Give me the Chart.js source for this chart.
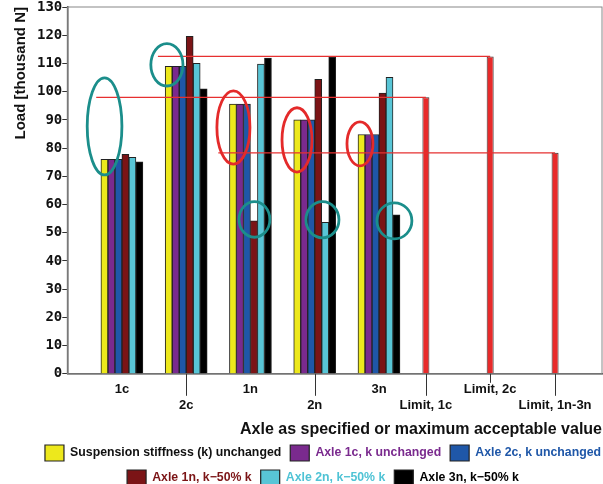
<!DOCTYPE html>
<html>
<head>
<meta charset="utf-8">
<script src="https://cdn.jsdelivr.net/npm/chart.js@4/dist/chart.umd.min.js"></script>
<style>
  html, body { margin: 0; padding: 0; background: #fff; }
</style>
</head>
<body>
<canvas id="chart" width="603" height="484"></canvas>
<script>
// axles along a numeric x axis, limits sit after the last group
const groups = ['1c', '2c', '1n', '2n', '3n'];
const groupPos = [1, 2, 3, 4, 5];
const limits = ['Limit, 1c', 'Limit, 2c', 'Limit, 1n-3n'];
const limitPos = [5.73, 6.73, 7.74];
const limitValues = [98, 112.5, 78.3];
// where each limit's reference line starts (x units)
const limitFrom = [0.6, 1.56, 2.5];

const seriesNames = [
  'Suspension stiffness (k) unchanged',
  'Axle 1c, k unchanged',
  'Axle 2c, k unchanged',
  'Axle 1n, k\u221250% k',
  'Axle 2n, k\u221250% k',
  'Axle 3n, k\u221250% k'
];
const stiffnessUnchanged = [76, 109, 95.6, 90, 84.8];
const axle1c = [76, 109, 95.6, 90, 84.8];
const axle2c = [76, 109, 95.6, 90, 84.8];
const axle1n = [77.8, 119.6, 54.2, 104.4, 99.5];
const axle2n = [76.7, 110, 109.8, 53.7, 105.1];
const axle3n = [75.1, 101, 111.9, 112.2, 56.3];
const series = [stiffnessUnchanged, axle1c, axle2c, axle1n, axle2n, axle3n];

const tickPos = [...groupPos, ...limitPos];
const tickLabels = [...groups, ...limits];

const barColors = ['#ede81c', '#7a2a8e', '#1f57a8', '#7b1416', '#58c5d6', '#000000'];
const textColors = ['#111111', '#7a2a8e', '#1f57a8', '#7b1416', '#4fc3d5', '#000000'];

// hand-drawn highlight rings from the original figure
const teal = '#1b8e8b', red = '#e42a2a';
const rings = [
  { x: 0.73, y: 87.7, rx: 0.27, ry: 17.2, color: teal },
  { x: 1.70, y: 109.5, rx: 0.25, ry: 7.5, color: teal },
  { x: 2.735, y: 87.3, rx: 0.257, ry: 13.0, color: red },
  { x: 3.724, y: 82.9, rx: 0.233, ry: 11.4, color: red },
  { x: 4.704, y: 81.5, rx: 0.202, ry: 7.8, color: red },
  { x: 3.062, y: 54.7, rx: 0.24, ry: 6.3, color: teal },
  { x: 4.12, y: 54.6, rx: 0.257, ry: 6.4, color: teal },
  { x: 5.24, y: 54.2, rx: 0.272, ry: 6.4, color: teal }
];

const datasets = series.map((vals, i) => ({
  type: 'bar',
  label: seriesNames[i],
  data: groupPos.map((x, j) => ({ x, y: vals[j] })),
  backgroundColor: barColors[i],
  borderColor: '#222',
  borderWidth: 1,
  barThickness: 7,
  order: 1
}));

datasets.push({
  type: 'bar',
  label: 'Limits',
  data: limitPos.map((x, j) => ({ x, y: limitValues[j] })),
  backgroundColor: '#e82a2a',
  borderColor: '#333',
  borderWidth: 1,
  grouped: false,
  maxBarThickness: 7,
  order: 1
});

limitValues.forEach((v, j) => {
  datasets.push({
    type: 'line',
    label: 'ref',
    data: [{ x: limitFrom[j], y: v }, { x: limitPos[j], y: v }],
    borderColor: '#e63030',
    borderWidth: 1.3,
    pointRadius: 0,
    order: 0
  });
});

const framePlugin = {
  id: 'frame',
  beforeDatasetsDraw(chart) {
    const { ctx, chartArea: a } = chart;
    ctx.save();
    ctx.strokeStyle = '#888';
    ctx.lineWidth = 1;
    ctx.strokeRect(a.left, a.top, a.right - a.left, a.bottom - a.top);
    ctx.restore();
  }
};

const ringsPlugin = {
  id: 'rings',
  afterDatasetsDraw(chart) {
    const { ctx, scales: { x, y } } = chart;
    ctx.save();
    ctx.lineWidth = 2.8;
    rings.forEach(r => {
      const cx = x.getPixelForValue(r.x), cy = y.getPixelForValue(r.y);
      const rx = Math.abs(x.getPixelForValue(r.x + r.rx) - cx);
      const ry = Math.abs(y.getPixelForValue(r.y + r.ry) - cy);
      ctx.strokeStyle = r.color;
      ctx.beginPath();
      ctx.ellipse(cx, cy, rx, ry, 0, 0, Math.PI * 2);
      ctx.stroke();
    });
    ctx.restore();
  }
};

// leader ticks for the lower row of staggered labels
const leadersPlugin = {
  id: 'leaders',
  afterDraw(chart) {
    const { ctx, chartArea: a, scales: { x } } = chart;
    ctx.save();
    ctx.strokeStyle = '#333';
    ctx.lineWidth = 1;
    tickPos.forEach((v, i) => {
      const len = i % 2 ? 22 : (tickLabels[i] === 'Limit, 2c' ? 9 : 0);
      if (!len) return;
      const px = Math.round(x.getPixelForValue(v)) + 0.5;
      ctx.beginPath();
      ctx.moveTo(px, a.bottom);
      ctx.lineTo(px, a.bottom + len);
      ctx.stroke();
    });
    ctx.restore();
  }
};

// legend rows sit a bit right of centre in the original
const legendNudge = {
  id: 'legendNudge',
  afterLayout(chart) {
    chart.legend.left += 22;
    chart.legend.right += 22;
  }
};

new Chart(document.getElementById('chart'), {
  type: 'bar',
  data: { datasets },
  plugins: [framePlugin, ringsPlugin, leadersPlugin, legendNudge],
  options: {
    responsive: false,
    animation: false,
    layout: { padding: { top: 0, right: 1, left: 0, bottom: -12 } },
    plugins: {
      tooltip: { enabled: false },
      legend: {
        position: 'bottom',
        labels: {
          boxWidth: 19,
          boxHeight: 16,
          padding: 9,
          color: '#111',
          font: { family: 'Liberation Sans', weight: 'bold', size: 12.3 },
          filter: item => item.datasetIndex < series.length,
          generateLabels(chart) {
            const items = Chart.defaults.plugins.legend.labels.generateLabels(chart);
            items.forEach(it => {
              if (it.datasetIndex < series.length) it.fontColor = textColors[it.datasetIndex];
              it.lineWidth = 1.2;
              it.strokeStyle = '#222';
            });
            return items;
          }
        }
      }
    },
    scales: {
      x: {
        type: 'linear',
        min: 0.15,
        max: 8.47,
        offset: false,
        grid: { display: false, drawTicks: false, offset: false },
        border: { display: true, color: '#444', width: 1.5 },
        afterBuildTicks: axis => { axis.ticks = tickPos.map(value => ({ value })); },
        ticks: {
          autoSkip: false,
          maxRotation: 0,
          padding: 8,
          color: '#111',
          font: { family: 'Liberation Sans', weight: 'bold', size: 13, lineHeight: 1.2 },
          callback: (v, i) => (i % 2 ? ['', tickLabels[i]] : tickLabels[i])
        },
        title: {
          display: true,
          text: 'Axle as specified or maximum acceptable value',
          align: 'end',
          color: '#111',
          font: { family: 'Liberation Sans', weight: 'bold', size: 16, lineHeight: 1 },
          padding: { top: 1, bottom: -2 }
        }
      },
      y: {
        min: 0,
        max: 130,
        ticks: {
          stepSize: 10,
          padding: 0,
          color: '#111',
          font: { family: 'DejaVu Sans Mono', weight: 'bold', size: 14, lineHeight: 1 }
        },
        grid: { drawOnChartArea: false, tickLength: 5, tickColor: '#333' },
        border: { color: '#444', width: 1.5 },
        title: {
          display: true,
          text: 'Load [thousand N]',
          align: 'end',
          color: '#111',
          font: { family: 'Liberation Sans', weight: 'bold', size: 15 },
          padding: { top: 12, bottom: 7 }
        }
      }
    }
  }
});
</script>
</body>
</html>
